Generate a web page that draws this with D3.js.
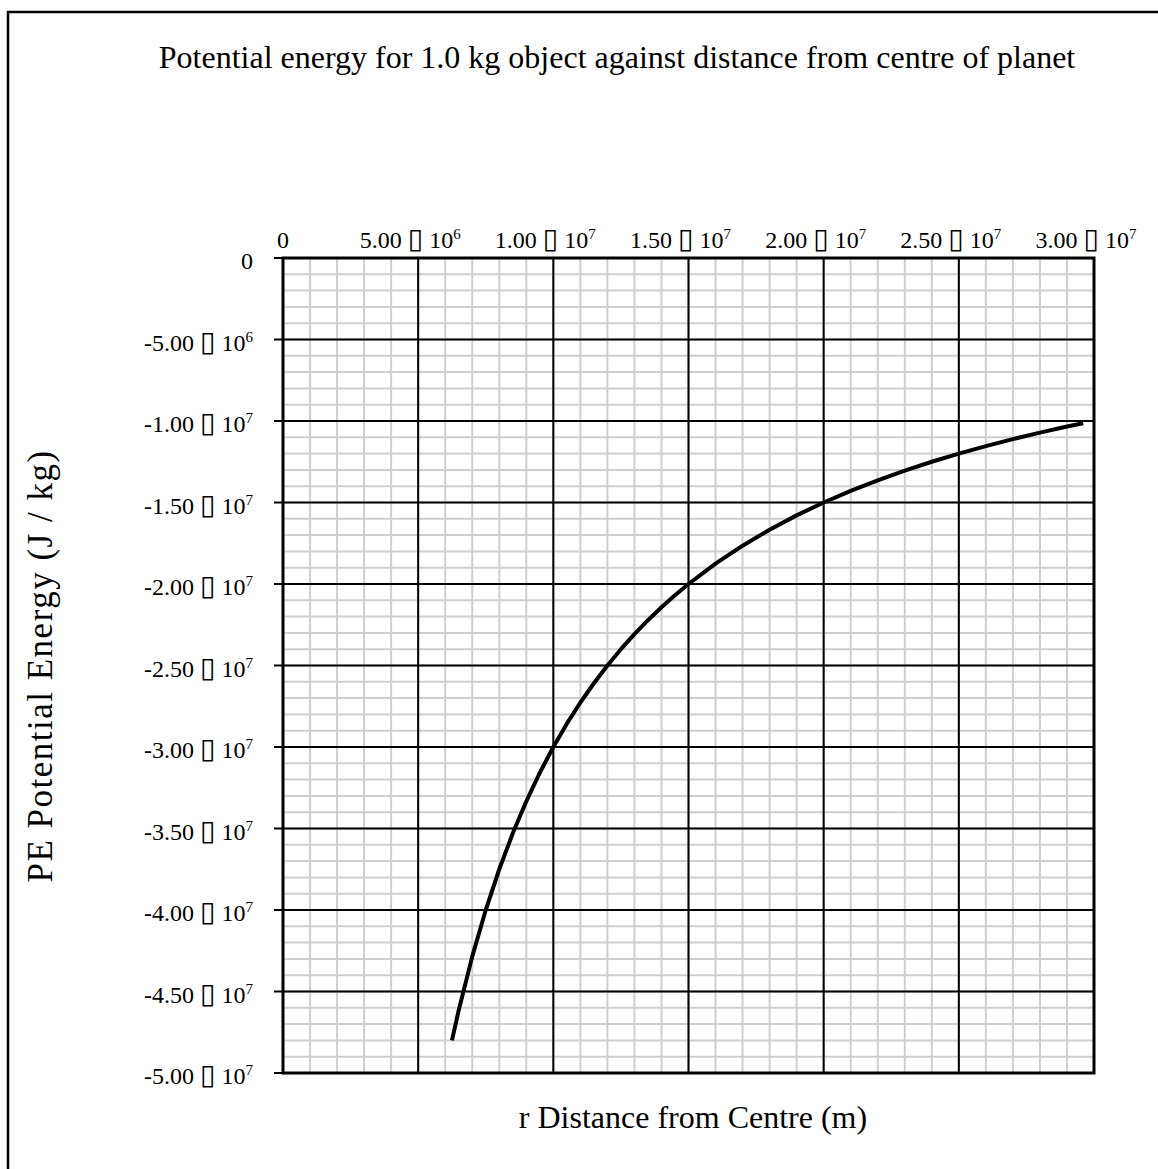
<!DOCTYPE html>
<html lang="en">
<head>
<meta charset="utf-8" />
<title>Potential energy against distance from centre of planet</title>
<style>
   body { margin:0; padding:0; background:#fff; }
   svg { display:block; }
   text { font-family:"Liberation Serif","Times New Roman",serif; fill:#000; }
   .box { font-family:"DejaVu Sans",sans-serif; }
</style>
<script src="https://cdn.jsdelivr.net/npm/d3@7"></script>
</head>
<body>
<svg id="main" width="1158" height="1169"></svg>
<script>
// distance from centre of planet (m) and potential energy (J/kg)
var r_m = [6.25e6, 6.5e6, 7.0e6, 7.5e6, 8.0e6, 8.5e6, 9.0e6, 9.5e6, 1.0e7, 1.05e7, 1.1e7, 1.15e7,
   1.2e7, 1.25e7, 1.3e7, 1.35e7, 1.4e7, 1.45e7, 1.5e7, 1.6e7, 1.7e7, 1.8e7, 1.9e7, 2.0e7, 2.1e7,
   2.2e7, 2.3e7, 2.4e7, 2.5e7, 2.6e7, 2.7e7, 2.8e7, 2.9e7, 2.96e7];
var pe_jkg = [-4.800e7, -4.615e7, -4.286e7, -4.000e7, -3.750e7, -3.529e7, -3.333e7, -3.158e7, -3.000e7,
   -2.857e7, -2.727e7, -2.609e7, -2.500e7, -2.400e7, -2.308e7, -2.222e7, -2.143e7, -2.069e7, -2.000e7,
   -1.875e7, -1.765e7, -1.667e7, -1.579e7, -1.500e7, -1.429e7, -1.364e7, -1.304e7, -1.250e7, -1.200e7,
   -1.154e7, -1.111e7, -1.071e7, -1.034e7, -1.014e7];

// axis ticks and their labels (mantissa, power of ten)
var x_ticks = [0, 5e6, 1e7, 1.5e7, 2e7, 2.5e7, 3e7];
var x_mant = ['0', '5.00', '1.00', '1.50', '2.00', '2.50', '3.00'];
var x_exp = [null, '6', '7', '7', '7', '7', '7'];
var y_ticks = [0, -5e6, -1e7, -1.5e7, -2e7, -2.5e7, -3e7, -3.5e7, -4e7, -4.5e7, -5e7];
var y_mant = ['0', '-5.00', '-1.00', '-1.50', '-2.00', '-2.50', '-3.00', '-3.50', '-4.00', '-4.50', '-5.00'];
var y_exp = [null, '6', '7', '7', '7', '7', '7', '7', '7', '7', '7'];

var svg = d3.select('#main');
// plot area edges (named so they do not clash with window.top)
var p_left = 283, p_right = 1094, p_top = 258, p_bottom = 1073;

var x = d3.scaleLinear().domain([0, 3e7]).range([p_left, p_right]);
var y = d3.scaleLinear().domain([0, -5e7]).range([p_top, p_bottom]);

// outer frame
svg.append('path')
   .attr('d', 'M1170,12H8V1180')
   .attr('fill', 'none').attr('stroke', '#000').attr('stroke-width', 2.5);

// title
svg.append('text')
   .attr('x', 617).attr('y', 68)
   .attr('text-anchor', 'middle')
   .style('font-size', '32px')
   .text('Potential energy for 1.0 kg object against distance from centre of planet');

// minor grid, every 1e6
var g = svg.append('g');
g.selectAll('line.mx').data(x.ticks(30)).enter().append('line')
   .attr('x1', d => x(d)).attr('x2', d => x(d)).attr('y1', p_top).attr('y2', p_bottom)
   .attr('stroke', '#cfcfcf').attr('stroke-width', 2);
g.selectAll('line.my').data(y.ticks(50)).enter().append('line')
   .attr('y1', d => y(d)).attr('y2', d => y(d)).attr('x1', p_left).attr('x2', p_right)
   .attr('stroke', '#cfcfcf').attr('stroke-width', 2);

// major grid
g.selectAll('line.gx').data(x_ticks).enter().append('line')
   .attr('x1', d => x(d)).attr('x2', d => x(d)).attr('y1', p_top).attr('y2', p_bottom)
   .attr('stroke', '#000').attr('stroke-width', 2);
g.selectAll('line.gy').data(y_ticks).enter().append('line')
   .attr('y1', d => y(d)).attr('y2', d => y(d)).attr('x1', p_left - 9).attr('x2', p_right)
   .attr('stroke', '#000').attr('stroke-width', 2);

// plot border
svg.append('rect')
   .attr('x', p_left).attr('y', p_top).attr('width', p_right - p_left).attr('height', p_bottom - p_top)
   .attr('fill', 'none').attr('stroke', '#000').attr('stroke-width', 3);

// tick label with a superscript power of ten
function flabel(sel, mant, exp) {
   sel.append('tspan').text(mant);
   if (exp === null) { return; };
   sel.append('tspan').text(' ');
   sel.append('tspan').attr('class', 'box').style('font-size', '28px').text('\u25AF');
   sel.append('tspan').text(' 10');
   sel.append('tspan').attr('dy', -9).style('font-size', '15px').text(exp);
};

// top x axis labels
svg.selectAll('text.xl').data(x_ticks).enter().append('text')
   .attr('x', (d, i) => x(d) - (i === 0 ? 0 : 8)).attr('y', 248)
   .attr('text-anchor', 'middle')
   .style('font-size', '24px')
   .each(function(d, i) { flabel(d3.select(this), x_mant[i], x_exp[i]); });

// left y axis labels
svg.selectAll('text.yl').data(y_ticks).enter().append('text')
   .attr('x', 253).attr('y', d => y(d) + 11)
   .attr('text-anchor', 'end')
   .style('font-size', '24px')
   .each(function(d, i) { flabel(d3.select(this), y_mant[i], y_exp[i]); });

// curve
var pts = r_m.map((r, i) => [r, pe_jkg[i]]);
svg.append('path')
   .datum(pts)
   .attr('d', d3.line().x(d => x(d[0])).y(d => y(d[1])))
   .attr('fill', 'none').attr('stroke', '#000').attr('stroke-width', 4)
   .attr('stroke-linejoin', 'round');

// axis titles
svg.append('text')
   .attr('x', 693).attr('y', 1128)
   .attr('text-anchor', 'middle')
   .style('font-size', '32px')
   .text('r Distance from Centre (m)');
svg.append('text')
   .attr('transform', 'translate(52,666) rotate(-90)')
   .attr('text-anchor', 'middle')
   .style('font-size', '35px')
   .style('letter-spacing', '1.5px')
   .text('PE Potential Energy (J / kg)');
</script>
</body>
</html>
